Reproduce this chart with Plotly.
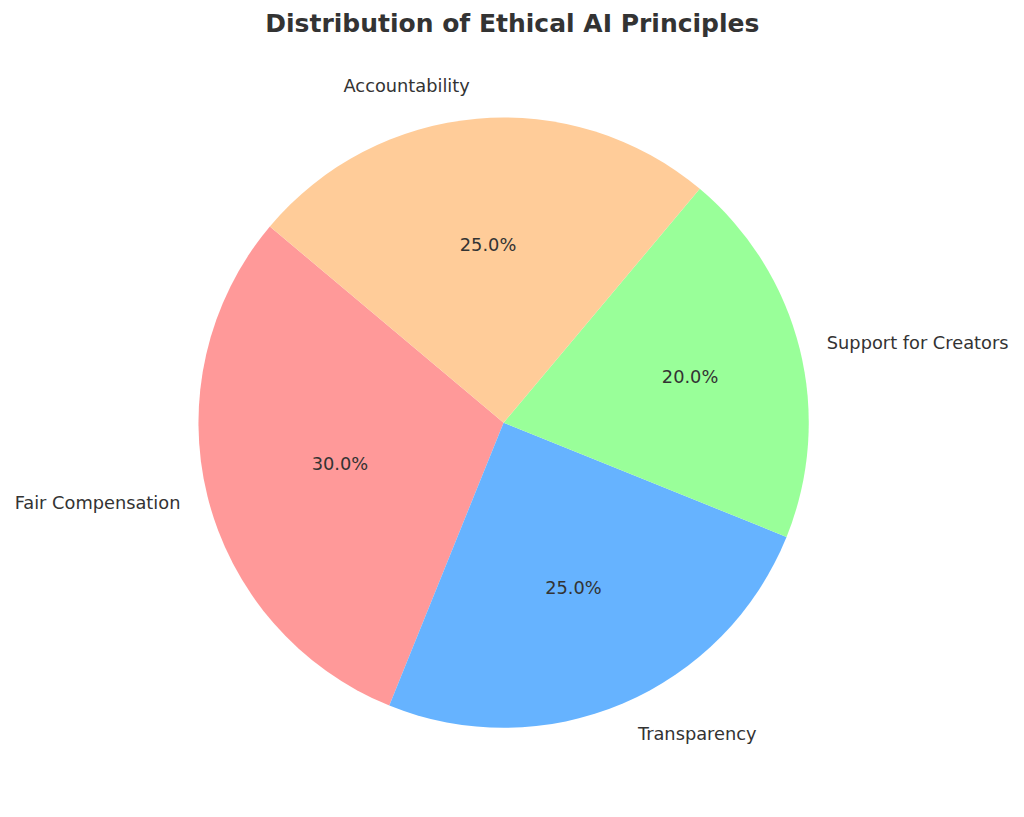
import plotly.graph_objects as go

labels = ["Fair Compensation", "Transparency", "Support for Creators", "Accountability"]
values = [30, 25, 20, 25]
colors = ["#ff9999", "#66b3ff", "#99ff99", "#ffcc99"]

dom = dict(x=[0.186, 0.782], y=[0.119, 0.866])
dom_labels = dict(x=[0.164, 0.804], y=[0.0895, 0.8955])
font = dict(family="DejaVu Sans", size=17.8, color="#333333")

fig = go.Figure()
fig.add_trace(go.Pie(
    labels=labels, values=values, sort=False, direction="counterclockwise",
    rotation=-158, marker=dict(colors=colors, line=dict(width=0)),
    texttemplate="%{percent:.1%}", textposition="inside",
    insidetextorientation="horizontal", textfont=font,
    domain=dom, showlegend=False, hoverinfo="label+percent",
))
fig.add_trace(go.Pie(
    labels=labels, values=values, sort=False, direction="counterclockwise",
    rotation=-158, marker=dict(colors=["rgba(0,0,0,0)"] * 4, line=dict(width=0)),
    texttemplate="%{label}", textposition="outside", textfont=font,
    domain=dom_labels, showlegend=False, hoverinfo="skip",
))
fig.update_layout(
    width=1024, height=817,
    margin=dict(l=0, r=0, t=0, b=0),
    paper_bgcolor="white",
    title=dict(text="<b>Distribution of Ethical AI Principles</b>", x=0.4925, y=0.981,
               xanchor="center", yanchor="middle",
               font=dict(family="DejaVu Sans", size=25, color="#333333")),
)
fig.write_html("out.html")
